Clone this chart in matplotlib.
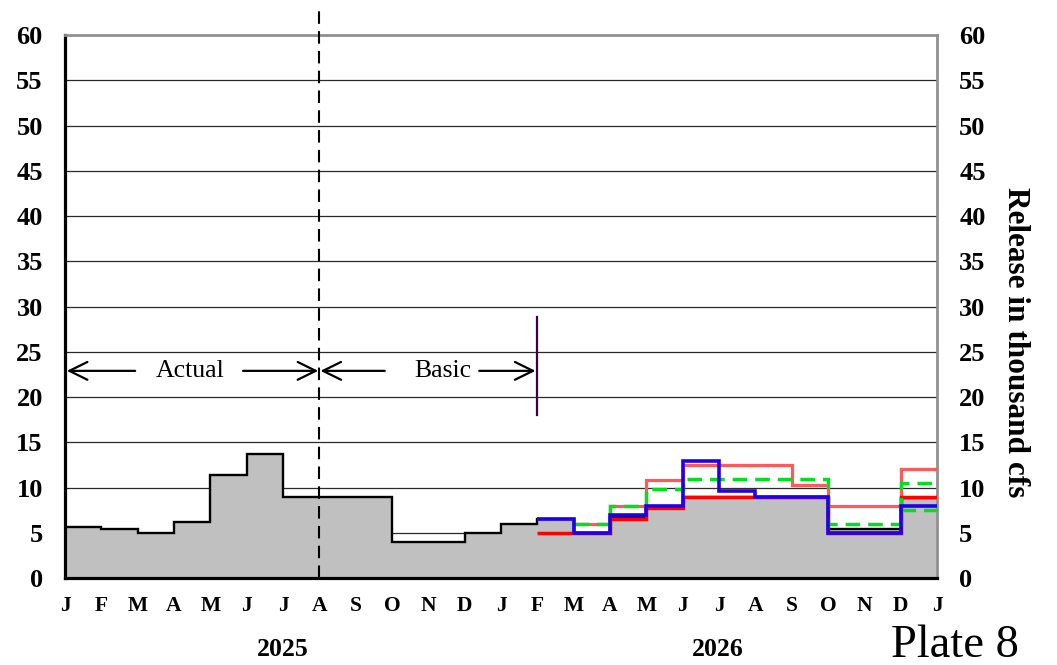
import numpy as np
import matplotlib
matplotlib.use('Agg')
import matplotlib.pyplot as plt

plt.rcParams['font.family'] = ['Liberation Serif', 'DejaVu Serif']

# Month tick labels, Jan 2025 .. Jan 2027
month_labels = ['J', 'F', 'M', 'A', 'M', 'J', 'J', 'A', 'S', 'O', 'N', 'D',
                'J', 'F', 'M', 'A', 'M', 'J', 'J', 'A', 'S', 'O', 'N', 'D', 'J']
year_labels = ['2025', '2026']
y_ticks = [0, 5, 10, 15, 20, 25, 30, 35, 40, 45, 50, 55, 60]

# Actual + basic release (thousand cfs), Jan 2025 .. Dec 2026
basic = [5.6, 5.4, 5.0, 6.2, 11.4, 13.7, 9.0, 9.0, 9.0, 4.0, 4.0, 5.0,
         6.0, 6.5, 5.0, 6.8, 7.9, 9.0, 9.0, 9.0, 9.0, 5.4, 5.4, 8.8]

# Alternative simulations, starting month index given separately
red_start = 13
red_vals = [5.0, 5.0, 6.5, 7.7, 9.0, 9.0, 9.0, 9.0, 5.0, 5.0, 9.0]
blue_start = 13
blue_vals = [6.5, 5.0, 7.0, 8.0, 12.9, 9.6, 9.0, 9.0, 5.0, 5.0, 8.0]
pink_start = 14
pink_vals = [6.0, 8.0, 10.8, 12.5, 12.5, 12.5, 10.3, 8.0, 8.0, 12.0]
green_start = 14
green_vals = [6.0, 8.0, 9.8, 11.0, 11.0, 11.0, 11.0, 6.0, 6.0, 10.5]
green2_start = 23
green2_vals = [7.5]


def edges_for(start, vals):
    return np.arange(start, start + len(vals) + 1)


fig = plt.figure(figsize=(10.57, 6.65), dpi=100)
ax = fig.add_axes([0.0615, 0.1308, 0.825, 0.8162])

ax.set_xlim(0, 24)
ax.set_ylim(0, 60)
ax.set_axisbelow(True)
ax.yaxis.grid(True, color='#2a2a2a', linewidth=0.9)

# gray area with black outline
ax.stairs(basic, edges_for(0, basic), fill=True, color='#c0c0c0', zorder=1)
ax.stairs(basic, edges_for(0, basic), baseline=None, color='black', linewidth=1.7, zorder=2)

ax.stairs(pink_vals, edges_for(pink_start, pink_vals), baseline=None,
          color='#ff5a5a', linewidth=2.3, zorder=3)
ax.stairs(red_vals, edges_for(red_start, red_vals), baseline=None,
          color='#ff0000', linewidth=2.5, zorder=4)
ax.stairs(green_vals, edges_for(green_start, green_vals), baseline=None,
          color='#00e020', linewidth=2.5, linestyle=(0, (4.2, 2.3)), zorder=5)
ax.stairs(green2_vals, edges_for(green2_start, green2_vals), baseline=None,
          color='#00e020', linewidth=2.5, linestyle=(0, (4.2, 2.3)), zorder=5)
ax.stairs(blue_vals, edges_for(blue_start, blue_vals), baseline=None,
          color='#2200e6', linewidth=2.6, zorder=6)

# actual / basic divider and end of basic period
ax.plot([7, 7], [0, 62.7], color='black', linewidth=1.5, linestyle=(0, (6, 3.5)),
        clip_on=False, zorder=7)
ax.plot([13, 13], [18.0, 28.8], color='#400040', linewidth=1.6, zorder=7)

arrow = dict(arrowstyle='->,head_length=0.65,head_width=0.32', color='black',
             linewidth=1.6, mutation_scale=20, shrinkA=0, shrinkB=0)
ay = 22.9
ax.annotate('', xy=(0.05, ay), xytext=(1.93, ay), arrowprops=arrow, zorder=8)
ax.annotate('', xy=(6.97, ay), xytext=(4.9, ay), arrowprops=arrow, zorder=8)
ax.annotate('', xy=(7.03, ay), xytext=(8.8, ay), arrowprops=arrow, zorder=8)
ax.annotate('', xy=(12.95, ay), xytext=(11.4, ay), arrowprops=arrow, zorder=8)
ax.text(3.44, ay, 'Actual', ha='center', va='center', fontsize=18.5, zorder=8)
ax.text(10.4, ay, 'Basic', ha='center', va='center', fontsize=18.5, zorder=8)

# axes styling
for side in ['left', 'bottom']:
    ax.spines[side].set_linewidth(2.3)
    ax.spines[side].set_color('black')
for side in ['top', 'right']:
    ax.spines[side].set_linewidth(2.0)
    ax.spines[side].set_color('#909090')

ax.set_xticks(range(25))
ax.set_xticklabels(month_labels, fontweight='bold', fontsize=15.5)
ax.tick_params(axis='x', direction='in', length=5, width=1.3, pad=13)
ax.set_yticks(y_ticks)
ax.set_yticklabels([str(v) for v in y_ticks], fontweight='bold', fontsize=19)
ax.tick_params(axis='y', length=0, pad=16)

ax2 = ax.twinx()
ax2.set_ylim(0, 60)
ax2.set_yticks(y_ticks)
ax2.set_yticklabels([str(v) for v in y_ticks], fontweight='bold', fontsize=19)
ax2.tick_params(axis='y', length=0, pad=16)
for side in ax2.spines:
    ax2.spines[side].set_visible(False)

# right-hand axis title, sits a bit below the axis centre like the original
fig.text(1016 / 1057, 1 - 342 / 665, 'Release in thousand cfs', rotation=270,
         ha='center', va='center', fontweight='bold', fontsize=22.5)

fig.text(283 / 1057, 1 - 650 / 665, year_labels[0], ha='center', va='center',
         fontweight='bold', fontsize=18.5)
fig.text(718 / 1057, 1 - 650 / 665, year_labels[1], ha='center', va='center',
         fontweight='bold', fontsize=18.5)
fig.text(955 / 1057, 1 - 657 / 665, 'Plate 8', ha='center', va='baseline', fontsize=33.5)

fig.savefig('out.png', dpi=100)
